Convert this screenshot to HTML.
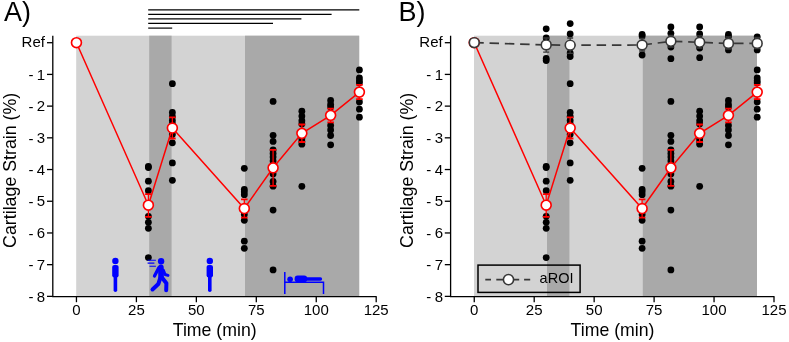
<!DOCTYPE html>
<html><head><meta charset="utf-8"><style>
html,body{margin:0;padding:0;background:#fff;width:789px;height:342px;overflow:hidden;}
svg{display:block;will-change:transform;}
text{font-family:"Liberation Sans",sans-serif;fill:#000;}
</style></head><body>
<svg width="789" height="342" viewBox="0 0 789 342">
<rect x="76.2" y="35.7" width="283.0" height="260.90000000000003" fill="#d3d3d3"/>
<rect x="149.2" y="35.7" width="22.400000000000006" height="260.90000000000003" fill="#a9a9a9"/>
<rect x="245.0" y="35.7" width="114.19999999999999" height="260.90000000000003" fill="#a9a9a9"/>
<path d="M52.8 35.7 V296.6 H376.6" fill="none" stroke="#000" stroke-width="1.3"/>
<line x1="47.0" y1="42.70" x2="52.8" y2="42.70" stroke="#000" stroke-width="1.3"/>
<text x="44.9" y="47.30" text-anchor="end" font-size="15">Ref</text>
<line x1="47.0" y1="74.41" x2="52.8" y2="74.41" stroke="#000" stroke-width="1.3"/>
<text x="28.4" y="80.21" font-size="15">-</text>
<text x="45.2" y="79.61" text-anchor="end" font-size="15">1</text>
<line x1="47.0" y1="106.12" x2="52.8" y2="106.12" stroke="#000" stroke-width="1.3"/>
<text x="28.4" y="111.92" font-size="15">-</text>
<text x="45.2" y="111.32" text-anchor="end" font-size="15">2</text>
<line x1="47.0" y1="137.83" x2="52.8" y2="137.83" stroke="#000" stroke-width="1.3"/>
<text x="28.4" y="143.63" font-size="15">-</text>
<text x="45.2" y="143.03" text-anchor="end" font-size="15">3</text>
<line x1="47.0" y1="169.54" x2="52.8" y2="169.54" stroke="#000" stroke-width="1.3"/>
<text x="28.4" y="175.34" font-size="15">-</text>
<text x="45.2" y="174.74" text-anchor="end" font-size="15">4</text>
<line x1="47.0" y1="201.25" x2="52.8" y2="201.25" stroke="#000" stroke-width="1.3"/>
<text x="28.4" y="207.05" font-size="15">-</text>
<text x="45.2" y="206.45" text-anchor="end" font-size="15">5</text>
<line x1="47.0" y1="232.96" x2="52.8" y2="232.96" stroke="#000" stroke-width="1.3"/>
<text x="28.4" y="238.76" font-size="15">-</text>
<text x="45.2" y="238.16" text-anchor="end" font-size="15">6</text>
<line x1="47.0" y1="264.67" x2="52.8" y2="264.67" stroke="#000" stroke-width="1.3"/>
<text x="28.4" y="270.47" font-size="15">-</text>
<text x="45.2" y="269.87" text-anchor="end" font-size="15">7</text>
<line x1="47.0" y1="296.38" x2="52.8" y2="296.38" stroke="#000" stroke-width="1.3"/>
<text x="28.4" y="302.18" font-size="15">-</text>
<text x="45.2" y="301.58" text-anchor="end" font-size="15">8</text>
<line x1="76.45" y1="296.6" x2="76.45" y2="302.2" stroke="#000" stroke-width="1.3"/>
<text x="76.45" y="314.9" text-anchor="middle" font-size="15">0</text>
<line x1="136.40" y1="296.6" x2="136.40" y2="302.2" stroke="#000" stroke-width="1.3"/>
<text x="136.40" y="314.9" text-anchor="middle" font-size="15">25</text>
<line x1="196.35" y1="296.6" x2="196.35" y2="302.2" stroke="#000" stroke-width="1.3"/>
<text x="196.35" y="314.9" text-anchor="middle" font-size="15">50</text>
<line x1="256.30" y1="296.6" x2="256.30" y2="302.2" stroke="#000" stroke-width="1.3"/>
<text x="256.30" y="314.9" text-anchor="middle" font-size="15">75</text>
<line x1="316.25" y1="296.6" x2="316.25" y2="302.2" stroke="#000" stroke-width="1.3"/>
<text x="316.25" y="314.9" text-anchor="middle" font-size="15">100</text>
<line x1="376.20" y1="296.6" x2="376.20" y2="302.2" stroke="#000" stroke-width="1.3"/>
<text x="376.20" y="314.9" text-anchor="middle" font-size="15">125</text>
<text x="214.7" y="336.0" text-anchor="middle" font-size="17.7">Time (min)</text>
<text transform="translate(15.5,170.3) rotate(-90)" text-anchor="middle" font-size="17.8">Cartilage Strain (%)</text>
<text x="4.0" y="20.7" font-size="27">A)</text>
<line x1="148.2" y1="9.8" x2="359.3" y2="9.8" stroke="#000" stroke-width="1.2"/>
<line x1="148.2" y1="14.3" x2="331.6" y2="14.3" stroke="#000" stroke-width="1.2"/>
<line x1="148.2" y1="18.8" x2="301.4" y2="18.8" stroke="#000" stroke-width="1.2"/>
<line x1="148.2" y1="23.4" x2="273.0" y2="23.4" stroke="#000" stroke-width="1.2"/>
<line x1="148.2" y1="28.1" x2="172.2" y2="28.1" stroke="#000" stroke-width="1.2"/>
<circle cx="148.39" cy="166.5" r="3.4" fill="#000"/>
<circle cx="148.39" cy="167.5" r="3.4" fill="#000"/>
<circle cx="148.39" cy="181.2" r="3.4" fill="#000"/>
<circle cx="148.39" cy="190.7" r="3.4" fill="#000"/>
<circle cx="148.39" cy="216.3" r="3.4" fill="#000"/>
<circle cx="148.39" cy="222.3" r="3.4" fill="#000"/>
<circle cx="148.39" cy="228.3" r="3.4" fill="#000"/>
<circle cx="148.39" cy="257.6" r="3.4" fill="#000"/>
<circle cx="172.37" cy="83.7" r="3.4" fill="#000"/>
<circle cx="172.37" cy="112.5" r="3.4" fill="#000"/>
<circle cx="172.37" cy="116.5" r="3.4" fill="#000"/>
<circle cx="172.37" cy="120.5" r="3.4" fill="#000"/>
<circle cx="172.37" cy="124.0" r="3.4" fill="#000"/>
<circle cx="172.37" cy="134.5" r="3.4" fill="#000"/>
<circle cx="172.37" cy="142.8" r="3.4" fill="#000"/>
<circle cx="172.37" cy="162.9" r="3.4" fill="#000"/>
<circle cx="172.37" cy="180.3" r="3.4" fill="#000"/>
<circle cx="244.31" cy="168.3" r="3.4" fill="#000"/>
<circle cx="244.31" cy="189.5" r="3.4" fill="#000"/>
<circle cx="244.31" cy="191.8" r="3.4" fill="#000"/>
<circle cx="244.31" cy="194.7" r="3.4" fill="#000"/>
<circle cx="244.31" cy="214.5" r="3.4" fill="#000"/>
<circle cx="244.31" cy="220.3" r="3.4" fill="#000"/>
<circle cx="244.31" cy="241.2" r="3.4" fill="#000"/>
<circle cx="244.31" cy="248.3" r="3.4" fill="#000"/>
<circle cx="273.09" cy="101.4" r="3.4" fill="#000"/>
<circle cx="273.09" cy="135.3" r="3.4" fill="#000"/>
<circle cx="273.09" cy="141.4" r="3.4" fill="#000"/>
<circle cx="273.09" cy="150.0" r="3.4" fill="#000"/>
<circle cx="273.09" cy="153.5" r="3.4" fill="#000"/>
<circle cx="273.09" cy="157.0" r="3.4" fill="#000"/>
<circle cx="273.09" cy="161.0" r="3.4" fill="#000"/>
<circle cx="273.09" cy="174.0" r="3.4" fill="#000"/>
<circle cx="273.09" cy="181.5" r="3.4" fill="#000"/>
<circle cx="273.09" cy="186.2" r="3.4" fill="#000"/>
<circle cx="273.09" cy="210.1" r="3.4" fill="#000"/>
<circle cx="273.09" cy="269.9" r="3.4" fill="#000"/>
<circle cx="301.86" cy="111.2" r="3.4" fill="#000"/>
<circle cx="301.86" cy="116.1" r="3.4" fill="#000"/>
<circle cx="301.86" cy="120.7" r="3.4" fill="#000"/>
<circle cx="301.86" cy="124.0" r="3.4" fill="#000"/>
<circle cx="301.86" cy="138.5" r="3.4" fill="#000"/>
<circle cx="301.86" cy="141.5" r="3.4" fill="#000"/>
<circle cx="301.86" cy="144.2" r="3.4" fill="#000"/>
<circle cx="301.86" cy="186.3" r="3.4" fill="#000"/>
<circle cx="330.64" cy="100.5" r="3.4" fill="#000"/>
<circle cx="330.64" cy="104.5" r="3.4" fill="#000"/>
<circle cx="330.64" cy="107.0" r="3.4" fill="#000"/>
<circle cx="330.64" cy="125.5" r="3.4" fill="#000"/>
<circle cx="330.64" cy="130.0" r="3.4" fill="#000"/>
<circle cx="330.64" cy="135.5" r="3.4" fill="#000"/>
<circle cx="330.64" cy="144.8" r="3.4" fill="#000"/>
<circle cx="359.41" cy="69.9" r="3.4" fill="#000"/>
<circle cx="359.41" cy="78.0" r="3.4" fill="#000"/>
<circle cx="359.41" cy="80.8" r="3.4" fill="#000"/>
<circle cx="359.41" cy="82.8" r="3.4" fill="#000"/>
<circle cx="359.41" cy="102.0" r="3.4" fill="#000"/>
<circle cx="359.41" cy="109.2" r="3.4" fill="#000"/>
<circle cx="359.41" cy="117.2" r="3.4" fill="#000"/>
<polyline points="76.45,42.7 148.39,205.2 172.37,128.0 244.31,208.5 273.09,167.8 301.86,133.3 330.64,115.3 359.41,92.1" fill="none" stroke="#ff0000" stroke-width="1.5"/>
<path d="M148.39 194.1 V216.8" stroke="#ff0000" stroke-width="1.3" fill="none"/>
<path d="M145.09 194.1 H151.69 M145.09 216.8 H151.69" stroke="#ff0000" stroke-width="1.8" fill="none"/>
<path d="M172.37 117.3 V138.5" stroke="#ff0000" stroke-width="1.3" fill="none"/>
<path d="M169.07 117.3 H175.67 M169.07 138.5 H175.67" stroke="#ff0000" stroke-width="1.8" fill="none"/>
<path d="M244.31 199.3 V217.7" stroke="#ff0000" stroke-width="1.3" fill="none"/>
<path d="M241.01 199.3 H247.61 M241.01 217.7 H247.61" stroke="#ff0000" stroke-width="1.8" fill="none"/>
<path d="M273.09 149.9 V185.8" stroke="#ff0000" stroke-width="1.3" fill="none"/>
<path d="M269.79 149.9 H276.39 M269.79 185.8 H276.39" stroke="#ff0000" stroke-width="1.8" fill="none"/>
<path d="M301.86 124.5 V142.0" stroke="#ff0000" stroke-width="1.3" fill="none"/>
<path d="M298.56 124.5 H305.16 M298.56 142.0 H305.16" stroke="#ff0000" stroke-width="1.8" fill="none"/>
<path d="M330.64 108.7 V122.3" stroke="#ff0000" stroke-width="1.3" fill="none"/>
<path d="M327.34 108.7 H333.94 M327.34 122.3 H333.94" stroke="#ff0000" stroke-width="1.8" fill="none"/>
<path d="M359.41 84.9 V99.2" stroke="#ff0000" stroke-width="1.3" fill="none"/>
<path d="M356.11 84.9 H362.71 M356.11 99.2 H362.71" stroke="#ff0000" stroke-width="1.8" fill="none"/>
<circle cx="76.45" cy="42.7" r="4.95" fill="#fff" stroke="#ff0000" stroke-width="1.65"/>
<circle cx="148.39" cy="205.2" r="4.95" fill="#fff" stroke="#ff0000" stroke-width="1.65"/>
<circle cx="172.37" cy="128.0" r="4.95" fill="#fff" stroke="#ff0000" stroke-width="1.65"/>
<circle cx="244.31" cy="208.5" r="4.95" fill="#fff" stroke="#ff0000" stroke-width="1.65"/>
<circle cx="273.09" cy="167.8" r="4.95" fill="#fff" stroke="#ff0000" stroke-width="1.65"/>
<circle cx="301.86" cy="133.3" r="4.95" fill="#fff" stroke="#ff0000" stroke-width="1.65"/>
<circle cx="330.64" cy="115.3" r="4.95" fill="#fff" stroke="#ff0000" stroke-width="1.65"/>
<circle cx="359.41" cy="92.1" r="4.95" fill="#fff" stroke="#ff0000" stroke-width="1.65"/>
<circle cx="115.4" cy="261.0" r="3.2" fill="#0000ff"/>
<rect x="112.2" y="264.9" width="6.4" height="12.5" rx="2.2" fill="#0000ff"/>
<path d="M115.4 276.5 V290.3" stroke="#0000ff" stroke-width="3.6" stroke-linecap="round"/>
<circle cx="209.8" cy="261.0" r="3.2" fill="#0000ff"/>
<rect x="206.60000000000002" y="264.9" width="6.4" height="12.5" rx="2.2" fill="#0000ff"/>
<path d="M209.8 276.5 V290.3" stroke="#0000ff" stroke-width="3.6" stroke-linecap="round"/>
<circle cx="161.1" cy="261.2" r="3.2" fill="#0000ff"/>
<path d="M160.9 267.4 L161.1 277.4" stroke="#0000ff" stroke-width="5.6" stroke-linecap="round"/>
<path d="M158.8 267.8 L154.5 276.1" stroke="#0000ff" stroke-width="3.3" stroke-linecap="round"/>
<path d="M163.4 270.2 L165.0 274.5 L168.0 275.4" stroke="#0000ff" stroke-width="3" stroke-linecap="round" stroke-linejoin="round" fill="none"/>
<path d="M160.3 278.0 L158.3 284.0 L152.5 289.5" stroke="#0000ff" stroke-width="4" stroke-linecap="round" stroke-linejoin="round" fill="none"/>
<path d="M162.3 278.0 L166.4 283.3 L166.2 290.2" stroke="#0000ff" stroke-width="4" stroke-linecap="round" stroke-linejoin="round" fill="none"/>
<path d="M147.6 260.2 H155.9 M147.6 263.1 H154.4 M149.5 266.2 H155.9" stroke="#0000ff" stroke-width="1.1"/>
<path d="M284.8 272 V294 M284.8 282.2 H323.5 V294" stroke="#0000ff" stroke-width="1.5" fill="none"/>
<circle cx="290.1" cy="279.2" r="2.8" fill="#0000ff"/>
<rect x="294.6" y="275.5" width="12.6" height="6.7" rx="3" fill="#0000ff"/>
<path d="M306 279.0 H320.5" stroke="#0000ff" stroke-width="3.3" stroke-linecap="round"/>
<rect x="474.0" y="35.7" width="283.0" height="260.90000000000003" fill="#d3d3d3"/>
<rect x="547.0" y="35.7" width="22.400000000000006" height="260.90000000000003" fill="#a9a9a9"/>
<rect x="642.8" y="35.7" width="114.19999999999999" height="260.90000000000003" fill="#a9a9a9"/>
<path d="M450.6 35.7 V296.6 H774.4000000000001" fill="none" stroke="#000" stroke-width="1.3"/>
<line x1="444.8" y1="42.70" x2="450.6" y2="42.70" stroke="#000" stroke-width="1.3"/>
<text x="442.7" y="47.30" text-anchor="end" font-size="15">Ref</text>
<line x1="444.8" y1="74.41" x2="450.6" y2="74.41" stroke="#000" stroke-width="1.3"/>
<text x="426.2" y="80.21" font-size="15">-</text>
<text x="443.0" y="79.61" text-anchor="end" font-size="15">1</text>
<line x1="444.8" y1="106.12" x2="450.6" y2="106.12" stroke="#000" stroke-width="1.3"/>
<text x="426.2" y="111.92" font-size="15">-</text>
<text x="443.0" y="111.32" text-anchor="end" font-size="15">2</text>
<line x1="444.8" y1="137.83" x2="450.6" y2="137.83" stroke="#000" stroke-width="1.3"/>
<text x="426.2" y="143.63" font-size="15">-</text>
<text x="443.0" y="143.03" text-anchor="end" font-size="15">3</text>
<line x1="444.8" y1="169.54" x2="450.6" y2="169.54" stroke="#000" stroke-width="1.3"/>
<text x="426.2" y="175.34" font-size="15">-</text>
<text x="443.0" y="174.74" text-anchor="end" font-size="15">4</text>
<line x1="444.8" y1="201.25" x2="450.6" y2="201.25" stroke="#000" stroke-width="1.3"/>
<text x="426.2" y="207.05" font-size="15">-</text>
<text x="443.0" y="206.45" text-anchor="end" font-size="15">5</text>
<line x1="444.8" y1="232.96" x2="450.6" y2="232.96" stroke="#000" stroke-width="1.3"/>
<text x="426.2" y="238.76" font-size="15">-</text>
<text x="443.0" y="238.16" text-anchor="end" font-size="15">6</text>
<line x1="444.8" y1="264.67" x2="450.6" y2="264.67" stroke="#000" stroke-width="1.3"/>
<text x="426.2" y="270.47" font-size="15">-</text>
<text x="443.0" y="269.87" text-anchor="end" font-size="15">7</text>
<line x1="444.8" y1="296.38" x2="450.6" y2="296.38" stroke="#000" stroke-width="1.3"/>
<text x="426.2" y="302.18" font-size="15">-</text>
<text x="443.0" y="301.58" text-anchor="end" font-size="15">8</text>
<line x1="474.25" y1="296.6" x2="474.25" y2="302.2" stroke="#000" stroke-width="1.3"/>
<text x="474.25" y="314.9" text-anchor="middle" font-size="15">0</text>
<line x1="534.20" y1="296.6" x2="534.20" y2="302.2" stroke="#000" stroke-width="1.3"/>
<text x="534.20" y="314.9" text-anchor="middle" font-size="15">25</text>
<line x1="594.15" y1="296.6" x2="594.15" y2="302.2" stroke="#000" stroke-width="1.3"/>
<text x="594.15" y="314.9" text-anchor="middle" font-size="15">50</text>
<line x1="654.10" y1="296.6" x2="654.10" y2="302.2" stroke="#000" stroke-width="1.3"/>
<text x="654.10" y="314.9" text-anchor="middle" font-size="15">75</text>
<line x1="714.05" y1="296.6" x2="714.05" y2="302.2" stroke="#000" stroke-width="1.3"/>
<text x="714.05" y="314.9" text-anchor="middle" font-size="15">100</text>
<line x1="774.00" y1="296.6" x2="774.00" y2="302.2" stroke="#000" stroke-width="1.3"/>
<text x="774.00" y="314.9" text-anchor="middle" font-size="15">125</text>
<text x="612.5" y="336.0" text-anchor="middle" font-size="17.7">Time (min)</text>
<text transform="translate(413.3,170.3) rotate(-90)" text-anchor="middle" font-size="17.8">Cartilage Strain (%)</text>
<text x="398.5" y="20.7" font-size="27">B)</text>
<circle cx="546.19" cy="166.5" r="3.4" fill="#000"/>
<circle cx="546.19" cy="167.5" r="3.4" fill="#000"/>
<circle cx="546.19" cy="181.2" r="3.4" fill="#000"/>
<circle cx="546.19" cy="190.7" r="3.4" fill="#000"/>
<circle cx="546.19" cy="216.3" r="3.4" fill="#000"/>
<circle cx="546.19" cy="222.3" r="3.4" fill="#000"/>
<circle cx="546.19" cy="228.3" r="3.4" fill="#000"/>
<circle cx="546.19" cy="257.6" r="3.4" fill="#000"/>
<circle cx="570.17" cy="83.7" r="3.4" fill="#000"/>
<circle cx="570.17" cy="112.5" r="3.4" fill="#000"/>
<circle cx="570.17" cy="116.5" r="3.4" fill="#000"/>
<circle cx="570.17" cy="120.5" r="3.4" fill="#000"/>
<circle cx="570.17" cy="124.0" r="3.4" fill="#000"/>
<circle cx="570.17" cy="134.5" r="3.4" fill="#000"/>
<circle cx="570.17" cy="142.8" r="3.4" fill="#000"/>
<circle cx="570.17" cy="162.9" r="3.4" fill="#000"/>
<circle cx="570.17" cy="180.3" r="3.4" fill="#000"/>
<circle cx="642.11" cy="168.3" r="3.4" fill="#000"/>
<circle cx="642.11" cy="189.5" r="3.4" fill="#000"/>
<circle cx="642.11" cy="191.8" r="3.4" fill="#000"/>
<circle cx="642.11" cy="194.7" r="3.4" fill="#000"/>
<circle cx="642.11" cy="214.5" r="3.4" fill="#000"/>
<circle cx="642.11" cy="220.3" r="3.4" fill="#000"/>
<circle cx="642.11" cy="241.2" r="3.4" fill="#000"/>
<circle cx="642.11" cy="248.3" r="3.4" fill="#000"/>
<circle cx="670.89" cy="101.4" r="3.4" fill="#000"/>
<circle cx="670.89" cy="135.3" r="3.4" fill="#000"/>
<circle cx="670.89" cy="141.4" r="3.4" fill="#000"/>
<circle cx="670.89" cy="150.0" r="3.4" fill="#000"/>
<circle cx="670.89" cy="153.5" r="3.4" fill="#000"/>
<circle cx="670.89" cy="157.0" r="3.4" fill="#000"/>
<circle cx="670.89" cy="161.0" r="3.4" fill="#000"/>
<circle cx="670.89" cy="174.0" r="3.4" fill="#000"/>
<circle cx="670.89" cy="181.5" r="3.4" fill="#000"/>
<circle cx="670.89" cy="186.2" r="3.4" fill="#000"/>
<circle cx="670.89" cy="210.1" r="3.4" fill="#000"/>
<circle cx="670.89" cy="269.9" r="3.4" fill="#000"/>
<circle cx="699.66" cy="111.2" r="3.4" fill="#000"/>
<circle cx="699.66" cy="116.1" r="3.4" fill="#000"/>
<circle cx="699.66" cy="120.7" r="3.4" fill="#000"/>
<circle cx="699.66" cy="124.0" r="3.4" fill="#000"/>
<circle cx="699.66" cy="138.5" r="3.4" fill="#000"/>
<circle cx="699.66" cy="141.5" r="3.4" fill="#000"/>
<circle cx="699.66" cy="144.2" r="3.4" fill="#000"/>
<circle cx="699.66" cy="186.3" r="3.4" fill="#000"/>
<circle cx="728.44" cy="100.5" r="3.4" fill="#000"/>
<circle cx="728.44" cy="104.5" r="3.4" fill="#000"/>
<circle cx="728.44" cy="107.0" r="3.4" fill="#000"/>
<circle cx="728.44" cy="125.5" r="3.4" fill="#000"/>
<circle cx="728.44" cy="130.0" r="3.4" fill="#000"/>
<circle cx="728.44" cy="135.5" r="3.4" fill="#000"/>
<circle cx="728.44" cy="144.8" r="3.4" fill="#000"/>
<circle cx="757.21" cy="69.9" r="3.4" fill="#000"/>
<circle cx="757.21" cy="78.0" r="3.4" fill="#000"/>
<circle cx="757.21" cy="80.8" r="3.4" fill="#000"/>
<circle cx="757.21" cy="82.8" r="3.4" fill="#000"/>
<circle cx="757.21" cy="102.0" r="3.4" fill="#000"/>
<circle cx="757.21" cy="109.2" r="3.4" fill="#000"/>
<circle cx="757.21" cy="117.2" r="3.4" fill="#000"/>
<circle cx="546.19" cy="28.8" r="3.4" fill="#000"/>
<circle cx="546.19" cy="38.0" r="3.4" fill="#000"/>
<circle cx="546.19" cy="58.5" r="3.4" fill="#000"/>
<circle cx="546.19" cy="60.5" r="3.4" fill="#000"/>
<circle cx="570.17" cy="23.6" r="3.4" fill="#000"/>
<circle cx="570.17" cy="33.9" r="3.4" fill="#000"/>
<circle cx="570.17" cy="53.0" r="3.4" fill="#000"/>
<circle cx="570.17" cy="56.5" r="3.4" fill="#000"/>
<circle cx="642.11" cy="34.5" r="3.4" fill="#000"/>
<circle cx="642.11" cy="36.0" r="3.4" fill="#000"/>
<circle cx="642.11" cy="55.0" r="3.4" fill="#000"/>
<circle cx="670.89" cy="26.9" r="3.4" fill="#000"/>
<circle cx="670.89" cy="33.3" r="3.4" fill="#000"/>
<circle cx="670.89" cy="47.0" r="3.4" fill="#000"/>
<circle cx="670.89" cy="58.7" r="3.4" fill="#000"/>
<circle cx="699.66" cy="26.9" r="3.4" fill="#000"/>
<circle cx="699.66" cy="34.0" r="3.4" fill="#000"/>
<circle cx="699.66" cy="48.0" r="3.4" fill="#000"/>
<circle cx="699.66" cy="57.7" r="3.4" fill="#000"/>
<circle cx="728.44" cy="34.5" r="3.4" fill="#000"/>
<circle cx="728.44" cy="36.5" r="3.4" fill="#000"/>
<circle cx="728.44" cy="49.9" r="3.4" fill="#000"/>
<circle cx="757.21" cy="36.8" r="3.4" fill="#000"/>
<circle cx="757.21" cy="49.9" r="3.4" fill="#000"/>
<polyline points="474.25,42.7 546.19,205.2 570.17,128.0 642.11,208.5 670.89,167.8 699.66,133.3 728.44,115.3 757.21,92.1" fill="none" stroke="#ff0000" stroke-width="1.5"/>
<path d="M546.19 194.1 V216.8" stroke="#ff0000" stroke-width="1.3" fill="none"/>
<path d="M542.89 194.1 H549.49 M542.89 216.8 H549.49" stroke="#ff0000" stroke-width="1.8" fill="none"/>
<path d="M570.17 117.3 V138.5" stroke="#ff0000" stroke-width="1.3" fill="none"/>
<path d="M566.87 117.3 H573.47 M566.87 138.5 H573.47" stroke="#ff0000" stroke-width="1.8" fill="none"/>
<path d="M642.11 199.3 V217.7" stroke="#ff0000" stroke-width="1.3" fill="none"/>
<path d="M638.81 199.3 H645.41 M638.81 217.7 H645.41" stroke="#ff0000" stroke-width="1.8" fill="none"/>
<path d="M670.89 149.9 V185.8" stroke="#ff0000" stroke-width="1.3" fill="none"/>
<path d="M667.59 149.9 H674.19 M667.59 185.8 H674.19" stroke="#ff0000" stroke-width="1.8" fill="none"/>
<path d="M699.66 124.5 V142.0" stroke="#ff0000" stroke-width="1.3" fill="none"/>
<path d="M696.36 124.5 H702.96 M696.36 142.0 H702.96" stroke="#ff0000" stroke-width="1.8" fill="none"/>
<path d="M728.44 108.7 V122.3" stroke="#ff0000" stroke-width="1.3" fill="none"/>
<path d="M725.14 108.7 H731.74 M725.14 122.3 H731.74" stroke="#ff0000" stroke-width="1.8" fill="none"/>
<path d="M757.21 84.9 V99.2" stroke="#ff0000" stroke-width="1.3" fill="none"/>
<path d="M753.91 84.9 H760.51 M753.91 99.2 H760.51" stroke="#ff0000" stroke-width="1.8" fill="none"/>
<circle cx="474.25" cy="42.7" r="4.95" fill="#fff" stroke="#ff0000" stroke-width="1.65"/>
<circle cx="546.19" cy="205.2" r="4.95" fill="#fff" stroke="#ff0000" stroke-width="1.65"/>
<circle cx="570.17" cy="128.0" r="4.95" fill="#fff" stroke="#ff0000" stroke-width="1.65"/>
<circle cx="642.11" cy="208.5" r="4.95" fill="#fff" stroke="#ff0000" stroke-width="1.65"/>
<circle cx="670.89" cy="167.8" r="4.95" fill="#fff" stroke="#ff0000" stroke-width="1.65"/>
<circle cx="699.66" cy="133.3" r="4.95" fill="#fff" stroke="#ff0000" stroke-width="1.65"/>
<circle cx="728.44" cy="115.3" r="4.95" fill="#fff" stroke="#ff0000" stroke-width="1.65"/>
<circle cx="757.21" cy="92.1" r="4.95" fill="#fff" stroke="#ff0000" stroke-width="1.65"/>
<path d="M546.19 38.0 V52.1 M543.19 38.0 H549.19 M543.19 52.1 H549.19" stroke="#383838" stroke-width="1.3" fill="none"/>
<path d="M570.17 38.0 V53.3 M567.17 38.0 H573.17 M567.17 53.3 H573.17" stroke="#383838" stroke-width="1.3" fill="none"/>
<path d="M642.11 38.5 V51.0 M639.11 38.5 H645.11 M639.11 51.0 H645.11" stroke="#383838" stroke-width="1.3" fill="none"/>
<path d="M670.89 35.4 V47.1 M667.89 35.4 H673.89 M667.89 47.1 H673.89" stroke="#383838" stroke-width="1.3" fill="none"/>
<path d="M699.66 35.9 V48.1 M696.66 35.9 H702.66 M696.66 48.1 H702.66" stroke="#383838" stroke-width="1.3" fill="none"/>
<path d="M728.44 37.0 V49.0 M725.44 37.0 H731.44 M725.44 49.0 H731.44" stroke="#383838" stroke-width="1.3" fill="none"/>
<path d="M757.21 37.5 V48.5 M754.21 37.5 H760.21 M754.21 48.5 H760.21" stroke="#383838" stroke-width="1.3" fill="none"/>
<polyline points="474.25,42.6 546.19,44.9 570.17,45.2 642.11,45.0 670.89,41.3 699.66,42.3 728.44,43.4 757.21,43.4" fill="none" stroke="#383838" stroke-width="1.7" stroke-dasharray="9.5,5.8"/>
<circle cx="474.25" cy="42.6" r="4.9" fill="#fff" stroke="#383838" stroke-width="1.6"/>
<circle cx="546.19" cy="44.9" r="4.9" fill="#fff" stroke="#383838" stroke-width="1.6"/>
<circle cx="570.17" cy="45.2" r="4.9" fill="#fff" stroke="#383838" stroke-width="1.6"/>
<circle cx="642.11" cy="45.0" r="4.9" fill="#fff" stroke="#383838" stroke-width="1.6"/>
<circle cx="670.89" cy="41.3" r="4.9" fill="#fff" stroke="#383838" stroke-width="1.6"/>
<circle cx="699.66" cy="42.3" r="4.9" fill="#fff" stroke="#383838" stroke-width="1.6"/>
<circle cx="728.44" cy="43.4" r="4.9" fill="#fff" stroke="#383838" stroke-width="1.6"/>
<circle cx="757.21" cy="43.4" r="4.9" fill="#fff" stroke="#383838" stroke-width="1.6"/>
<rect x="478" y="265.1" width="102.10000000000002" height="27.299999999999955" fill="none" stroke="#000" stroke-width="1.5"/>
<path d="M485.3 279.6 H491 M496.3 279.6 H519.2 M524.1 279.6 H530.2" stroke="#383838" stroke-width="1.6" fill="none"/>
<circle cx="508.5" cy="279.6" r="5.1" fill="#fff" stroke="#383838" stroke-width="1.6"/>
<text x="539.6" y="283.2" font-size="14.5">aROI</text>
</svg>
</body></html>
